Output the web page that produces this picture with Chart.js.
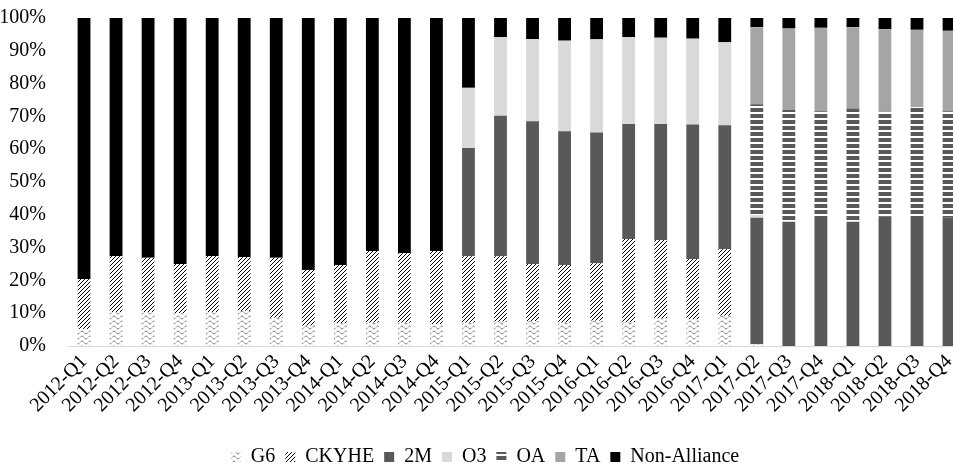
<!DOCTYPE html>
<html lang="en">
<head>
  <meta charset="UTF-8">
  <title>Alliance market share by quarter</title>
  <script src="https://cdn.jsdelivr.net/npm/chart.js"></script>
  <style>
    html, body { margin: 0; padding: 0; overflow: hidden; background: #fff; }
    #wrap { width: 970px; height: 477px; }
  </style>
</head>
<body>
  <div id="wrap"><canvas id="myChart" width="970" height="477"></canvas></div>

  <script>
    // quarters
    const quarters = [
      '2012-Q1','2012-Q2','2012-Q3','2012-Q4','2013-Q1','2013-Q2','2013-Q3','2013-Q4',
      '2014-Q1','2014-Q2','2014-Q3','2014-Q4','2015-Q1','2015-Q2','2015-Q3','2015-Q4',
      '2016-Q1','2016-Q2','2016-Q3','2016-Q4','2017-Q1','2017-Q2','2017-Q3','2017-Q4',
      '2018-Q1','2018-Q2','2018-Q3','2018-Q4'
    ];

    // shares in %
    const g6 =    [5.2,10.3,10.3,10.0,10.3,10.7,8.6,6.2,6.9,7.1,7.1,6.6,7.1,7.4,7.6,7.1,7.7,7.2,8.4,8.1,9.2,0.5,0,0,0,0,0,0];
    const ckyhe = [15.2,17.1,16.6,15.0,17.1,16.4,18.3,17.0,17.8,21.9,21.2,22.4,20.3,20.0,17.4,17.6,17.5,25.4,23.9,18.4,20.3,0,0,0,0,0,0,0];
    const m2 =    [0,0,0,0,0,0,0,0,0,0,0,0,33.0,42.8,43.5,40.8,39.9,35.1,35.4,41.0,37.8,38.6,37.9,39.6,37.9,39.4,38.4,39.2];
    const o3 =    [0,0,0,0,0,0,0,0,0,0,0,0,18.3,24.0,25.1,27.6,28.4,26.5,26.3,26.2,25.3,0.8,0,0,0,0,0,0];
    const oa =    [0,0,0,0,0,0,0,0,0,0,0,0,0,0,0,0,0,0,0,0,0,33.8,34.1,32.0,34.5,32.0,34.4,32.4];
    const ta =    [0,0,0,0,0,0,0,0,0,0,0,0,0,0,0,0,0,0,0,0,0,23.5,24.8,25.4,24.8,25.2,23.6,24.5];
    const nonAlliance = [79.6,72.6,73.1,75.0,72.6,72.9,73.1,76.8,75.3,71.0,71.7,71.0,21.3,5.8,6.4,6.9,6.5,5.8,6.0,6.3,7.4,2.8,3.2,3.0,2.8,3.4,3.6,3.9];

    // fill patterns
    function makePattern(w, h, draw) {
      const c = document.createElement('canvas');
      c.width = w; c.height = h;
      const g = c.getContext('2d');
      g.fillStyle = '#fff';
      g.fillRect(0, 0, w, h);
      draw(g);
      return g.createPattern(c, 'repeat');
    }

    const wavePattern = makePattern(8, 5, g => {
      g.strokeStyle = '#7f7f7f';
      g.lineWidth = 1;
      g.beginPath();
      for (let x = 0; x <= 8; x++) {
        const y = 2.5 - 1.5 * Math.sin(2 * Math.PI * x / 8);
        if (x === 0) g.moveTo(x, y); else g.lineTo(x, y);
      }
      g.stroke();
    });

    // crisp "/" hatch, one pixel per row
    const diagPattern = makePattern(4, 4, g => {
      g.fillStyle = '#000';
      for (let i = 0; i < 4; i++) g.fillRect(i, 3 - i, 1, 1);
    });

    const stripePattern = makePattern(1, 6, g => {
      g.fillStyle = '#595959';
      g.fillRect(0, 0, 1, 4);
    });

    const fontSpec = { family: 'Liberation Serif', size: 20 };

    const ctx = document.getElementById('myChart').getContext('2d');
    const myChart = new Chart(ctx, {
      type: 'bar',
      data: {
        labels: quarters,
        datasets: [
          { label: 'G6', data: g6, backgroundColor: wavePattern },
          { label: 'CKYHE', data: ckyhe, backgroundColor: diagPattern },
          { label: '2M', data: m2, backgroundColor: '#595959' },
          { label: 'O3', data: o3, backgroundColor: '#d9d9d9' },
          { label: 'OA', data: oa, backgroundColor: stripePattern },
          { label: 'TA', data: ta, backgroundColor: '#a5a5a5' },
          { label: 'Non-Alliance', data: nonAlliance, backgroundColor: '#000000' }
        ]
      },
      options: {
        responsive: false,
        animation: false,
        datasets: {
          bar: { barPercentage: 0.4, categoryPercentage: 1.0 }
        },
        layout: { padding: { top: 18, left: 0, right: 0, bottom: 0 } },
        plugins: {
          tooltip: { enabled: false },
          legend: {
            position: 'bottom',
            labels: {
              boxWidth: 10,
              boxHeight: 10,
              padding: 10,
              color: '#000',
              font: fontSpec
            }
          }
        },
        scales: {
          x: {
            stacked: true,
            grid: { display: true, drawOnChartArea: false, drawTicks: false },
            border: { display: true, color: '#d9d9d9', width: 1 },
            ticks: {
              color: '#000',
              minRotation: 45,
              maxRotation: 45,
              padding: 4,
              autoSkip: false,
              font: fontSpec
            },
            afterFit: s => { s.height = 91; }
          },
          y: {
            stacked: true,
            min: 0,
            max: 100,
            grid: { display: false },
            border: { display: false },
            ticks: {
              stepSize: 10,
              padding: 14,
              color: '#000',
              font: fontSpec,
              callback: v => v + '%'
            },
            // fixed axis width, and no extra room above the top label
            afterFit: s => { s.width = 68; s.paddingTop = 0; s.paddingBottom = 0; }
          }
        }
      }
    });
  </script>
</body>
</html>
